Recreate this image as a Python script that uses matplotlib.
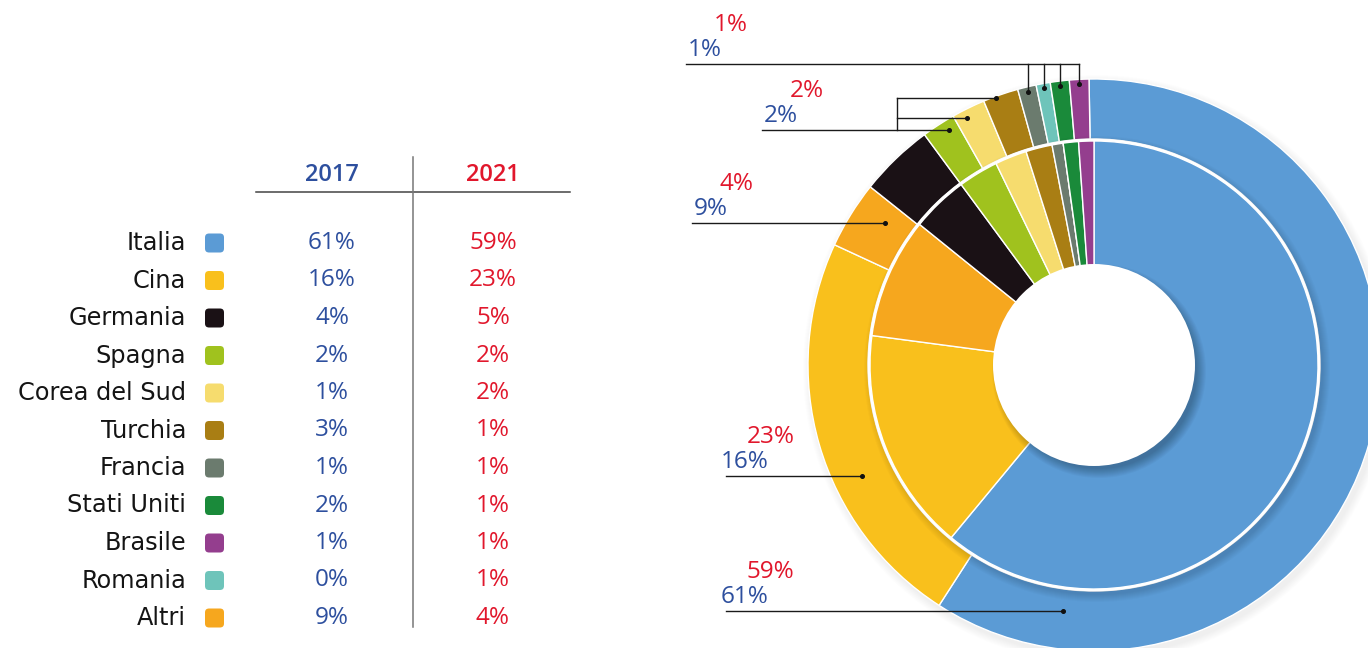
# ------------------------------------------------------------
# Origine delle importazioni: Italia vs resto del mondo, 2017-2021
# table on the left + nested donut (outer = 2021, inner = 2017)
# ------------------------------------------------------------
import numpy as np
import matplotlib.pyplot as plt
from matplotlib.patches import Circle, FancyBboxPatch

plt.rcParams['font.family'] = ['Open Sans', 'DejaVu Sans']
NAME_FONT = ['DejaVu Sans']

# -----------------------------
# 1. Data
# -----------------------------
# table order
countries = ["Italia", "Cina", "Germania", "Spagna", "Corea del Sud", "Turchia",
             "Francia", "Stati Uniti", "Brasile", "Romania", "Altri"]
colors = ["#5b9bd5", "#f9c01c", "#1a1115", "#a0c21e", "#f6dc6e", "#a97e14",
          "#6b7b6e", "#1a8a3a", "#943e8e", "#6ec4ba", "#f6a71e"]

# percentages printed in the table
label_2017 = [61, 16, 4, 2, 1, 3, 1, 2, 1, 0, 9]
label_2021 = [59, 23, 5, 2, 2, 1, 1, 1, 1, 1, 4]

share_2017 = [61.0, 16.1, 4.1, 2.9, 2.3, 1.9, 0.8, 1.1, 1.1, 0.0, 8.7]
share_2021 = [59.4, 22.8, 4.2, 1.9, 1.9, 2.0, 1.05, 1.07, 1.1, 0.8, 3.8]

# slices clockwise from 12 o'clock
pie_order = ["Italia", "Cina", "Altri", "Germania", "Spagna", "Corea del Sud",
             "Turchia", "Francia", "Romania", "Stati Uniti", "Brasile"]

# callouts: label text (2021, 2017), start of the leader line
callouts = [
    ("59%", "61%", 726),
    ("23%", "16%", 726),
    ("4%", "9%", 692),
    ("2%", "2%", 762),
    ("1%", "1%", 686),
]

BLUE = "#2d4f9e"
RED = "#e1172c"
NUM_SIZE = 17.5

# -----------------------------
# 2. Canvas in pixel units
# -----------------------------
W, H = 1368, 648
fig = plt.figure(figsize=(W / 100, H / 100), dpi=100)
ax = fig.add_axes([0, 0, 1, 1])


def Y(py):
    # pixel row (from top) -> data y
    return H - py


CX, CY = 1094, Y(365)
R_OUT, R_OUT_IN = 286, 226
R_IN, R_HOLE = 224, 101

idx = [countries.index(c) for c in pie_order]
pie_colors = [colors[i] for i in idx]
outer_vals = [share_2021[i] for i in idx]
inner_vals = [share_2017[i] for i in idx]

# -----------------------------
# 3. Donut with soft shadows
# -----------------------------
for k in range(8):
    ax.add_patch(Circle((CX + 3, CY - 4), R_OUT + 8 - k, color="black",
                        alpha=0.009, lw=0, zorder=1))

outer_wedges, _ = ax.pie(outer_vals, colors=pie_colors, radius=R_OUT,
                         center=(CX, CY), startangle=91, counterclock=False,
                         wedgeprops=dict(width=R_OUT - R_OUT_IN, edgecolor="white",
                                         linewidth=1.0, zorder=2))

for k in range(8):
    ax.add_patch(Circle((CX + 3, CY - 4), R_IN + 9 - k, color="black",
                        alpha=0.016, lw=0, zorder=3))
# white gap between the two rings
ax.add_patch(Circle((CX, CY), (R_IN + R_OUT_IN) / 2, fill=False,
                    edgecolor="white", lw=1.8, zorder=3.5))

inner_wedges, _ = ax.pie(inner_vals, colors=pie_colors, radius=R_IN,
                         center=(CX, CY), startangle=90, counterclock=False,
                         wedgeprops=dict(edgecolor="white", linewidth=1.0, zorder=4))

for k in range(10):
    ax.add_patch(Circle((CX + 5, CY - 6), R_HOLE + 6 - k, color="black",
                        alpha=0.028, lw=0, zorder=5))
ax.add_patch(Circle((CX, CY), R_HOLE, color="white", lw=0, zorder=6))


def anchor(name, frac, r):
    # point inside an outer wedge, frac measured clockwise
    w = outer_wedges[pie_order.index(name)]
    a = np.radians(w.theta2 - frac * (w.theta2 - w.theta1))
    return CX + r * np.cos(a), CY + r * np.sin(a)


def dot(p):
    ax.plot(p[0], p[1], "o", color="#111111", ms=2.6, zorder=8)


def callout_text(red, blue, x0, y):
    ax.text(x0 + 19, y + 14, blue, color=BLUE, fontsize=NUM_SIZE,
            ha="center", va="center", zorder=9)
    ax.text(x0 + 44.5, y + 39, red, color=RED, fontsize=NUM_SIZE,
            ha="center", va="center", zorder=9)


line_kw = dict(color="#1a1a1a", lw=1.0, zorder=7)

# Italia, Cina, Altri: single horizontal leaders
for name, frac, r, (red, blue, x0) in [("Italia", 0.88, 248, callouts[0]),
                                       ("Cina", 0.385, 257, callouts[1]),
                                       ("Altri", 0.68, 252, callouts[2])]:
    p = anchor(name, frac, r)
    ax.plot([x0, p[0]], [p[1], p[1]], **line_kw)
    dot(p)
    callout_text(red, blue, x0, p[1])

# Spagna / Corea del Sud / Turchia: bracket
red, blue, x0 = callouts[3]
p_sp = anchor("Spagna", 0.68, 276)
p_co = anchor("Corea del Sud", 0.35, 278)
p_tu = anchor("Turchia", 0.35, 284)
xb = 897
ax.plot([x0, p_sp[0]], [p_sp[1], p_sp[1]], **line_kw)
ax.plot([xb, xb], [p_sp[1], p_tu[1]], **line_kw)
ax.plot([xb, p_co[0]], [p_co[1], p_co[1]], **line_kw)
ax.plot([xb, p_tu[0]], [p_tu[1], p_tu[1]], **line_kw)
for p in (p_sp, p_co, p_tu):
    dot(p)
callout_text(red, blue, x0, p_sp[1])

# Francia / Romania / Stati Uniti / Brasile: comb from the top line
red, blue, x0 = callouts[4]
y_top = Y(64)
pts = [anchor(n, 0.5, 281) for n in ["Francia", "Romania", "Stati Uniti", "Brasile"]]
ax.plot([x0, pts[-1][0]], [y_top, y_top], **line_kw)
for p in pts:
    ax.plot([p[0], p[0]], [p[1], y_top], **line_kw)
    dot(p)
callout_text(red, blue, x0, y_top)

# -----------------------------
# 4. Table on the left
# -----------------------------
X_NAME, X_BOX, X_2017, X_2021 = 186, 214.5, 332, 493
row_y = [Y(243 + 37.5 * i) for i in range(len(countries))]

ax.text(X_2017, Y(175), "2017", color=BLUE, fontsize=17, fontweight="semibold",
        ha="center", va="center")
ax.text(X_2021, Y(175), "2021", color=RED, fontsize=17, fontweight="semibold",
        ha="center", va="center")
ax.plot([256, 570], [Y(192), Y(192)], color="#444444", lw=1.1)
ax.plot([413, 413], [Y(157), Y(627)], color="#777777", lw=1.1)

for name, col, v17, v21, y in zip(countries, colors, label_2017, label_2021, row_y):
    ax.text(X_NAME, y, name, color="#141414", fontsize=17.3, family=NAME_FONT,
            ha="right", va="center")
    ax.add_patch(FancyBboxPatch((X_BOX - 6.5, y - 6.5), 13, 13,
                                boxstyle="round,pad=3,rounding_size=4",
                                facecolor=col, edgecolor="none"))
    ax.text(X_2017, y, f"{v17}%", color=BLUE, fontsize=NUM_SIZE, ha="center", va="center")
    ax.text(X_2021, y, f"{v21}%", color=RED, fontsize=NUM_SIZE, ha="center", va="center")

ax.set_xlim(0, W)
ax.set_ylim(0, H)
ax.set_aspect("equal")
ax.axis("off")

fig.savefig("out.png", dpi=100, facecolor="white")
